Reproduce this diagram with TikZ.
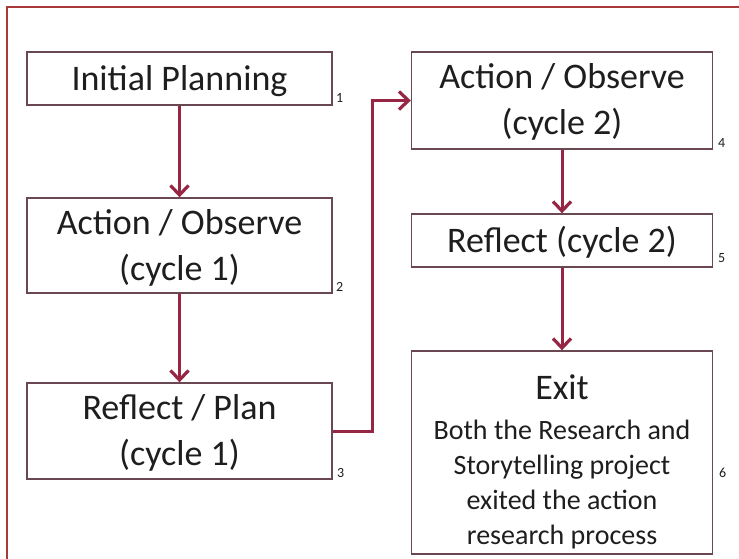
\documentclass[tikz,border=0pt]{standalone}
\usepackage{fontspec}
\setmainfont{Carlito}
\usetikzlibrary{arrows.meta}
\definecolor{framered}{RGB}{168,58,58}
\definecolor{arrowred}{RGB}{150,38,68}
\definecolor{boxline}{RGB}{105,72,82}
\definecolor{txt}{RGB}{30,30,30}
% shifts a block of centred lines down a little inside its box
\newcommand{\lowered}[2]{\raisebox{-#1}[\height][\depth]{\begin{tabular}{@{}c@{}}#2\end{tabular}}}
\begin{document}
\begin{tikzpicture}[x=1pt,y=-1pt,
  stagebox/.style={draw=boxline, line width=1.4pt, fill=white, text=txt,
    align=center, inner sep=0pt, font=\fontsize{36}{46}\selectfont},
  numlabel/.style={text=txt, font=\fontsize{14}{16}\selectfont, inner sep=0pt},
  flow/.style={draw=arrowred, line width=3pt,
    -{Straight Barb[length=9.5pt,width=18pt,line width=3.2pt]}}]
\useasboundingbox (0,0) rectangle (739,558);
% outer frame (open at right and bottom)
\draw[framered, line width=2.2pt] (7,570) -- (7,7) -- (750,7);

% left column
\node[stagebox, minimum width=305, minimum height=53] (b1) at (179.5,78.5) {\lowered{3pt}{Initial Planning}};
\node[stagebox, minimum width=305, minimum height=95] (b2) at (179.5,245.5) {\lowered{3pt}{Action / Observe\\(cycle 1)}};
\node[stagebox, minimum width=305, minimum height=96] (b3) at (179.5,431) {\lowered{2pt}{Reflect / Plan\\(cycle 1)}};

% right column
\node[stagebox, minimum width=301, minimum height=97] (b4) at (562,100.5) {\lowered{2pt}{Action / Observe\\(cycle 2)}};
\node[stagebox, minimum width=301, minimum height=53] (b5) at (562,240.5) {\lowered{3pt}{Reflect (cycle 2)}};
\node[stagebox, minimum width=301, minimum height=203, font=\fontsize{28}{35}\selectfont] (b6) at (562,452.5)
  {\lowered{12pt}{{\fontsize{36}{40}\selectfont Exit}\\[5pt]Both the Research and\\Storytelling project\\exited the action\\research process}};

% step numbers
\node[numlabel, anchor=base west] (n1) at (336,102) {1};
\node[numlabel, anchor=base west] (n2) at (336,291) {2};
\node[numlabel, anchor=base west] (n3) at (337,477) {3};
\node[numlabel, anchor=base west] (n4) at (718,147) {4};
\node[numlabel, anchor=base west] (n5) at (718,262) {5};
\node[numlabel, anchor=base west] (n6) at (719,477) {6};

% connectors
\draw[flow] (b1.south) -- (b2.north);
\draw[flow] (b2.south) -- (b3.north);
\draw[flow] (b3.east) -- ++(39.5,0) |- (b4.west);
\draw[flow] (b4.south) -- (b5.north);
\draw[flow] (b5.south) -- (b6.north);
\end{tikzpicture}
\end{document}
